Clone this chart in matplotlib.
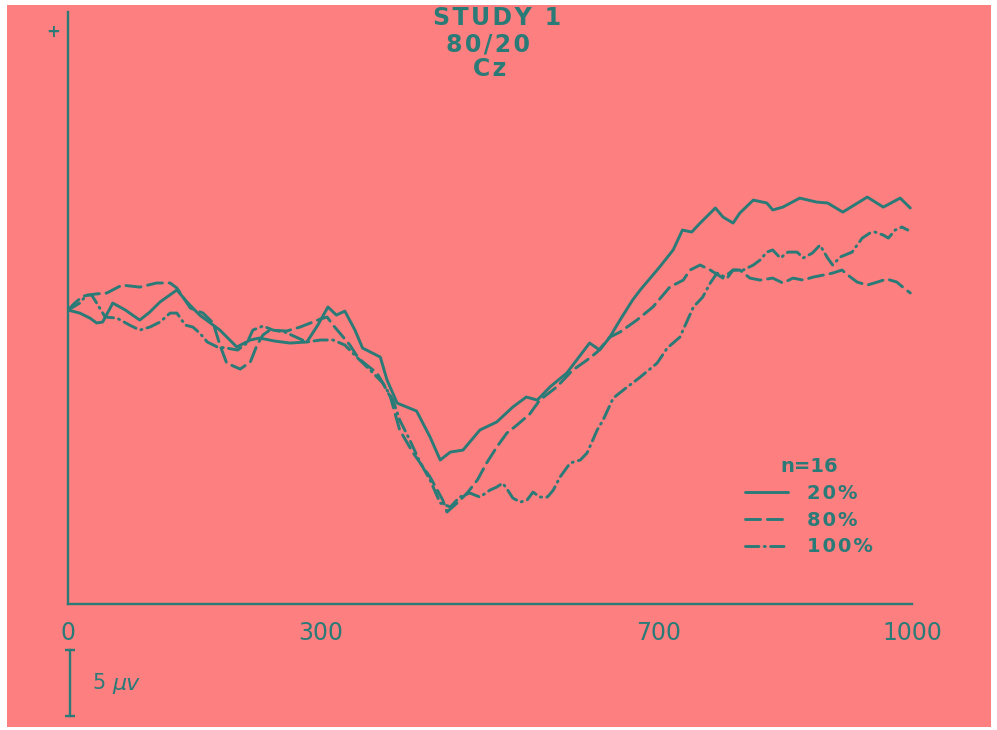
import matplotlib
matplotlib.use("Agg")
import matplotlib.pyplot as plt
from matplotlib.patches import Rectangle

# Grand-average ERP waveforms at Cz (time in ms, amplitude in microvolts)
t_20 = [0, 14, 26, 34, 41, 50, 53, 68, 85, 97, 109, 129, 141, 156, 180, 200, 216, 227,
        245, 263, 283, 296, 308, 318, 328, 340, 349, 370, 378, 390, 413, 429, 441, 453,
        468, 488, 508, 527, 543, 556, 571, 591, 618, 630, 642, 654, 669, 678, 701, 717,
        728, 739, 749, 767, 776, 788, 796, 812, 828, 835, 847, 867, 887, 900, 918, 947,
        966, 986, 998]
v_20 = [0.0, -0.23, -0.61, -0.98, -0.91, 0.15, 0.53, 0.0, -0.76, -0.15, 0.61, 1.52, 0.61,
        -0.38, -1.52, -2.80, -2.27, -2.12, -2.35, -2.50, -2.42, -1.14, 0.23, -0.38, -0.08,
        -1.52, -2.88, -3.56, -5.30, -7.05, -7.65, -9.62, -11.36, -10.76, -10.61, -9.09,
        -8.48, -7.35, -6.59, -6.82, -5.83, -4.77, -2.50, -3.03, -2.05, -0.76, 0.76, 1.52,
        3.26, 4.55, 6.06, 5.91, 6.59, 7.73, 7.05, 6.59, 7.35, 8.33, 8.11, 7.58, 7.80, 8.48,
        8.18, 8.11, 7.42, 8.56, 7.80, 8.48, 7.73]

t_80 = [0, 8, 18, 32, 46, 64, 85, 105, 121, 129, 145, 160, 172, 180, 188, 204, 216, 224,
        231, 239, 259, 275, 290, 299, 307, 314, 322, 334, 344, 354, 366, 373, 382, 393,
        409, 429, 444, 449, 461, 473, 485, 496, 508, 520, 532, 547, 559, 579, 598, 615,
        627, 642, 654, 674, 693, 713, 729, 737, 749, 761, 776, 788, 796, 808, 820, 835,
        847, 859, 871, 883, 895, 906, 917, 927, 935, 947, 959, 970, 982, 989, 998]
v_80 = [0.0, 0.53, 1.06, 1.21, 1.29, 1.89, 1.74, 2.05, 2.05, 1.67, 0.15, -0.23, -0.98,
        -2.65, -4.02, -4.47, -3.94, -2.65, -1.89, -1.52, -1.59, -1.29, -0.91, -0.68, -0.53,
        -1.14, -1.74, -2.65, -3.64, -4.17, -4.77, -5.53, -6.59, -9.09, -10.83, -12.65,
        -14.39, -15.30, -14.62, -13.86, -12.88, -11.59, -10.38, -9.32, -8.71, -7.88, -6.82,
        -5.83, -4.55, -3.79, -3.18, -2.05, -1.67, -0.76, 0.23, 1.74, 2.27, 3.03, 3.41, 3.03,
        2.42, 3.03, 3.03, 2.42, 2.27, 2.42, 2.05, 2.42, 2.27, 2.50, 2.65, 2.80, 3.03, 2.50,
        2.12, 1.89, 2.12, 2.35, 2.12, 1.74, 1.29]

t_100 = [0, 14, 22, 28, 34, 44, 58, 73, 85, 97, 109, 121, 129, 139, 148, 156, 165, 177,
         188, 201, 212, 219, 231, 243, 257, 283, 299, 314, 328, 342, 358, 373, 385, 393,
         405, 417, 429, 441, 453, 464, 476, 488, 500, 508, 515, 521, 527, 536, 544, 551,
         559, 568, 575, 583, 595, 607, 615, 627, 634, 646, 658, 678, 698, 710, 725, 741,
         752, 761, 769, 781, 788, 800, 812, 820, 828, 835, 844, 853, 864, 871, 882, 891,
         900, 906, 915, 929, 941, 950, 956, 966, 972, 980, 988, 995]
v_100 = [0.0, 0.53, 1.14, 1.14, 0.53, -0.53, -0.61, -1.14, -1.52, -1.29, -0.91, -0.23,
         -0.23, -1.14, -1.29, -1.74, -2.42, -2.80, -2.88, -3.03, -2.50, -1.52, -1.21, -1.52,
         -1.67, -2.42, -2.27, -2.27, -2.65, -3.56, -4.55, -5.53, -6.82, -8.33, -9.85, -11.52,
         -12.88, -14.62, -14.92, -14.17, -13.86, -14.17, -13.64, -13.41, -13.11, -13.64,
         -14.24, -14.55, -14.39, -13.79, -14.17, -14.17, -13.64, -12.65, -11.59, -11.36,
         -10.83, -9.09, -8.33, -6.67, -6.06, -5.08, -4.02, -2.88, -2.05, 0.23, 0.98, 2.05,
         2.80, 2.42, 3.03, 3.03, 3.41, 3.79, 4.39, 4.55, 3.94, 4.39, 4.39, 3.94, 4.32, 4.92,
         3.94, 3.41, 4.02, 4.39, 5.45, 5.83, 5.91, 5.68, 5.45, 6.06, 6.29, 6.06]

series_labels = ["20%", "80%", "100%"]
tick_values = [0, 300, 700, 1000]
tick_labels = ["0", "300", "700", "1000"]
title_lines = ["STUDY 1", "80/20", "Cz"]
n_subjects = 16
scale_uv = 5

BG = "#fe7f7f"
INK = "#2a7b78"
HAIR = "\u200a"


def spaced(s):
    return HAIR.join(s)


W, H = 997, 730
fig = plt.figure(figsize=(W / 100, H / 100), dpi=100, facecolor="white")
fig.patches.append(Rectangle((7 / W, 3 / H), 984 / W, 722 / H,
                             transform=fig.transFigure, facecolor=BG,
                             edgecolor="none", zorder=-10))

ax = fig.add_axes([68 / W, (H - 604) / H, 844 / W, 592 / H])
ax.set_facecolor("none")
ax.set_xlim(0, 1000)
ax.set_ylim(-22.27, 22.58)

lw = 2.1
styles = ["-", (0, (5.2, 2.3)), (0, (4.6, 1.8, 0.4, 1.8))]
for t, v, lab, ls in zip([t_20, t_80, t_100], [v_20, v_80, v_100], series_labels, styles):
    ax.plot(t, v, color=INK, lw=lw, linestyle=ls, label=spaced(lab),
            dash_capstyle="round", solid_capstyle="round",
            solid_joinstyle="round", dash_joinstyle="round")

for side in ("top", "right"):
    ax.spines[side].set_visible(False)
for side in ("left", "bottom"):
    ax.spines[side].set_color(INK)
    ax.spines[side].set_linewidth(1.7)

ax.set_yticks([])
ax.set_xticks(tick_values)
ax.set_xticklabels(tick_labels)
ax.tick_params(axis="x", length=0, pad=12, labelsize=17, labelcolor=INK)
ax.set_xticks(tick_values[1:-1], minor=True)
ax.tick_params(axis="x", which="minor", direction="in", length=6, width=1.3, color=INK)

# polarity marker
ax.text(-15 * 1000 / 844, 22.58 - 20 / 13.2, "+", color=INK, fontsize=12,
        fontweight="bold", ha="center", va="center")

# title
for line, py, cx in zip(title_lines, [18, 45, 69], [497, 488, 490]):
    fig.text(cx / W, 1 - py / H, spaced(line), color=INK, fontsize=17,
             fontweight="bold", ha="center", va="center")

# amplitude calibration bar
bar_x = 2
bar_top = -25.76
ax.plot([bar_x, bar_x], [bar_top, bar_top - scale_uv], color=INK, lw=1.7, clip_on=False)
ax.plot([bar_x, bar_x], [bar_top, bar_top - scale_uv], color=INK, lw=0, marker="_",
        markersize=7, markeredgewidth=1.7, clip_on=False)
ax.text(29, bar_top - scale_uv / 2, "5", color=INK, fontsize=15,
        ha="left", va="center")
ax.text(52, bar_top - scale_uv / 2 - 0.1, "\u03bcv", color=INK, fontsize=16,
        style="italic", ha="left", va="center")

leg = ax.legend(title=f"n={n_subjects}", title_fontsize=14,
                prop={"weight": "bold", "size": 14},
                frameon=False, handlelength=2.2, handletextpad=1.0, labelspacing=0.4,
                borderpad=0, borderaxespad=0, loc="upper left",
                bbox_to_anchor=(745 / W, 1 - 457 / H), bbox_transform=fig.transFigure)
for txt in leg.get_texts():
    txt.set_color(INK)
leg.get_title().set_color(INK)
leg.get_title().set_fontweight("bold")

fig.savefig("out.png", dpi=100, facecolor="white")
